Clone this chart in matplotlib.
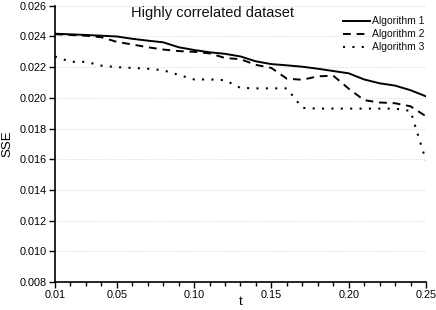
"""SSE versus t for three algorithms on the highly correlated dataset."""

import matplotlib

matplotlib.use("Agg")
import matplotlib.pyplot as plt
from matplotlib.ticker import MultipleLocator

T = [0.01, 0.02, 0.03, 0.04, 0.05, 0.06, 0.07, 0.08, 0.09, 0.10, 0.11, 0.12, 0.13,
     0.14, 0.15, 0.16, 0.17, 0.18, 0.19, 0.20, 0.21, 0.22, 0.23, 0.24, 0.25]

ALG1 = [0.02418, 0.02414, 0.02410, 0.02405, 0.02400, 0.02385, 0.02373, 0.02362,
        0.02330, 0.02312, 0.02297, 0.02287, 0.02270, 0.02238, 0.02220, 0.02212,
        0.02203, 0.02190, 0.02175, 0.02160, 0.02120, 0.02095, 0.02080, 0.02050,
        0.02010]

ALG2 = [0.02415, 0.02410, 0.02405, 0.02395, 0.02365, 0.02348, 0.02330, 0.02315,
        0.02305, 0.02300, 0.02290, 0.02260, 0.02252, 0.02215, 0.02195, 0.02125,
        0.02118, 0.02140, 0.02145, 0.02060, 0.01985, 0.01970, 0.01965, 0.01945,
        0.01880]

ALG3 = [0.02270, 0.02235, 0.02235, 0.02210, 0.02200, 0.02195, 0.02190, 0.02180,
        0.02150, 0.02120, 0.02120, 0.02115, 0.02065, 0.02062, 0.02062, 0.02062,
        0.01935, 0.01930, 0.01930, 0.01930, 0.01930, 0.01930, 0.01930, 0.01915,
        0.01590]

X_TICKS = [0.01, 0.05, 0.10, 0.15, 0.20, 0.25]
X_TICK_LABELS = ["0.01", "0.05", "0.10", "0.15", "0.20", "0.25"]
Y_TICKS = [0.008, 0.010, 0.012, 0.014, 0.016, 0.018, 0.020, 0.022, 0.024, 0.026]

plt.rcParams.update({"font.family": "Liberation Sans", "text.color": "#111111"})

fig = plt.figure(figsize=(4.36, 3.10), dpi=100)
ax = fig.add_axes([0.126, 0.0903, 0.851, 0.891])

ax.plot(T, ALG1, color="black", linewidth=1.4, linestyle="-", label="Algorithm 1")
ax.plot(T, ALG2, color="black", linewidth=1.4, linestyle=(0, (4, 3)), label="Algorithm 2")
ax.plot(T, ALG3, color="black", linewidth=1.5, linestyle=(0, (1, 3.5)), label="Algorithm 3")

ax.set_xlim(0.01, 0.25)
ax.set_ylim(0.008, 0.026)
ax.set_xticks(X_TICKS)
ax.set_xticklabels(X_TICK_LABELS)
ax.xaxis.set_minor_locator(MultipleLocator(0.01))
ax.set_yticks(Y_TICKS)
ax.set_yticklabels([f"{v:.3f}" for v in Y_TICKS])

for v in Y_TICKS[1:]:
    ax.axhline(v, color="#cfcfcf", linewidth=0.6, linestyle=(0, (1, 1.5)), zorder=0)

ax.tick_params(axis="both", which="major", direction="out", length=4, width=1.0,
               labelsize=7.8, pad=2)
ax.tick_params(axis="x", which="minor", direction="out", length=3, width=1.0)
ax.spines["top"].set_visible(False)
ax.spines["right"].set_visible(False)
ax.spines["left"].set_linewidth(1.2)
ax.spines["bottom"].set_linewidth(1.2)

ax.set_xlabel("t", fontsize=9.5, labelpad=-3)
ax.set_ylabel("SSE", fontsize=9.5, labelpad=4)

ax.text(0.112, 0.0255, "Highly correlated dataset", fontsize=10.5, ha="center", va="center")

ax.legend(loc="upper right", bbox_to_anchor=(1.012, 0.985), frameon=False,
          fontsize=7.5, handlelength=2.6, handletextpad=0.2, labelspacing=0.3,
          borderaxespad=0.2)

fig.savefig("out.png", dpi=100)
